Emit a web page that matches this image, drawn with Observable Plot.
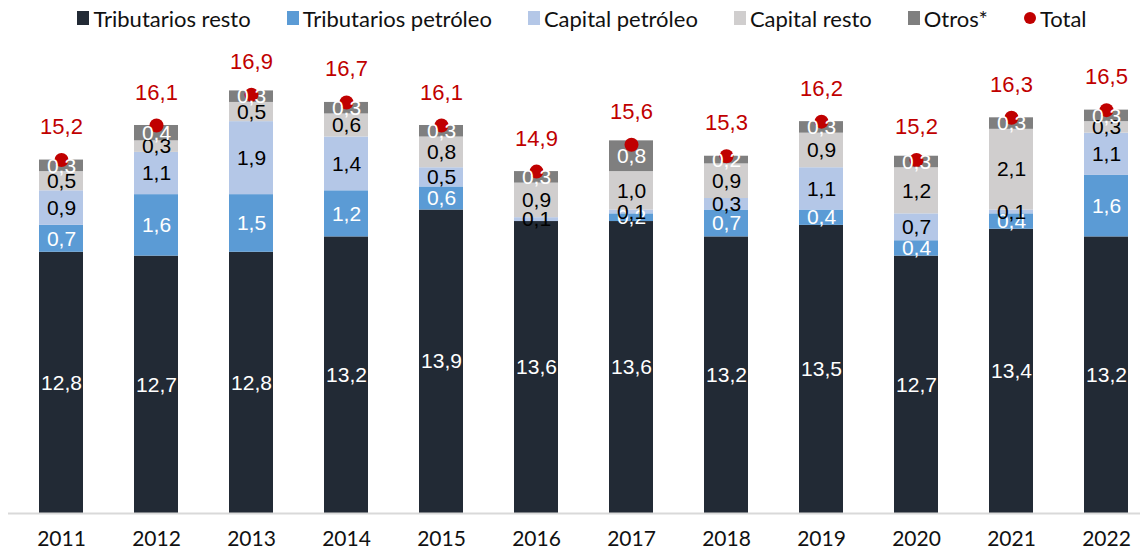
<!DOCTYPE html>
<html><head><meta charset="utf-8">
<script src="https://cdn.jsdelivr.net/npm/d3@7"></script>
<script src="https://cdn.jsdelivr.net/npm/@observablehq/plot@0.6"></script>
<style>
body{margin:0;background:#fff;width:1146px;height:552px;overflow:hidden;font-family:Lato,sans-serif}
#legend{height:36px;display:flex;justify-content:center;align-items:center;gap:36px;font:22px Lato,sans-serif;color:#111;padding-left:18px;box-sizing:border-box}
#legend span.item{display:flex;align-items:center;white-space:nowrap}
#legend i{display:inline-block;width:12px;height:14px;margin-right:4px}
#legend i.dot{width:12px;height:12px;border-radius:50%}
</style></head>
<body>
<div id="legend"></div>
<div id="chart"></div>
<script>
const years = ["2011","2012","2013","2014","2015","2016","2017","2018","2019","2020","2021","2022"];
const seriesNames = ["Tributarios resto","Tributarios petróleo","Capital petróleo","Capital resto","Otros*"];
const seriesColors = ["#222a35","#5b9bd5","#b4c7e7","#d0cece","#7f7f7f"];
const labelColors = ["#ffffff","#ffffff","#000000","#000000","#ffffff"];
const tribResto    = [12.8,12.7,12.8,13.2,13.9,13.6,13.6,13.2,13.5,12.7,13.4,13.2];
const tribPetroleo = [0.7,1.6,1.5,1.2,0.6,0.0,0.2,0.7,0.4,0.4,0.4,1.6];
const capPetroleo  = [0.9,1.1,1.9,1.4,0.5,0.1,0.1,0.3,1.1,0.7,0.1,1.1];
const capResto     = [0.5,0.3,0.5,0.6,0.8,0.9,1.0,0.9,0.9,1.2,2.1,0.3];
const otros        = [0.3,0.4,0.3,0.3,0.3,0.3,0.8,0.2,0.3,0.3,0.3,0.3];
const totals       = [15.2,16.1,16.9,16.7,16.1,14.9,15.6,15.3,16.2,15.2,16.3,16.5];
const totalColor = "#c00000";
const yMin = 6, yMax = 18;

const seriesValues = [tribResto, tribPetroleo, capPetroleo, capResto, otros];
const fmt = v => d3.format(".1f")(v).replace(".", ",");

const rows = [];
const labels = [];
years.forEach((yr, i) => {
  let acc = 0;
  seriesValues.forEach((vals, s) => {
    const v = vals[i];
    const y1 = acc, y2 = acc + v;
    acc = y2;
    rows.push({year: yr, series: seriesNames[s], value: v});
    if (v >= 0.05) labels.push({year: yr, mid: (Math.max(y1, yMin) + y2) / 2, text: fmt(v), color: labelColors[s]});
  });
});
const totRows = years.map((yr, i) => ({year: yr, total: totals[i]}));

// legend
const lg = document.getElementById("legend");
seriesNames.forEach((n, s) => {
  lg.insertAdjacentHTML("beforeend", `<span class="item"><i style="background:${seriesColors[s]}"></i>${n}</span>`);
});
lg.insertAdjacentHTML("beforeend", `<span class="item"><i class="dot" style="background:${totalColor}"></i>Total</span>`);

const chart = Plot.plot({
  width: 1146, height: 516,
  marginTop: 16, marginBottom: 39, marginLeft: 8, marginRight: 6,
  style: {background: "#fff"},
  x: {domain: years, paddingInner: 0.54, paddingOuter: 0, insetLeft: 27, insetRight: 9, label: null, axis: null},
  y: {domain: [yMin, yMax], clamp: true, axis: null},
  color: {domain: seriesNames, range: seriesColors},
  marks: [
    Plot.barY(rows, {x: "year", y: "value", fill: "series"}),
    Plot.ruleY([yMin], {stroke: "#d9d9d9", strokeWidth: 2}),
    Plot.axisX({tickSize: 0, tickPadding: 18, fontSize: 21, fontFamily: "Lato", fill: "#111"}),
    Plot.dot(totRows, {x: "year", y: "total", r: 7, fill: totalColor}),
    Plot.text(labels, {x: "year", y: "mid", text: "text", fill: "color", fontSize: 21, fontFamily: "Liberation Sans"}),
    Plot.text(totRows, {x: "year", y: "total", text: d => fmt(d.total), dy: -33, fill: totalColor, fontSize: 22, fontFamily: "Liberation Sans"})
  ]
});
document.getElementById("chart").appendChild(chart);
</script>
</body></html>
